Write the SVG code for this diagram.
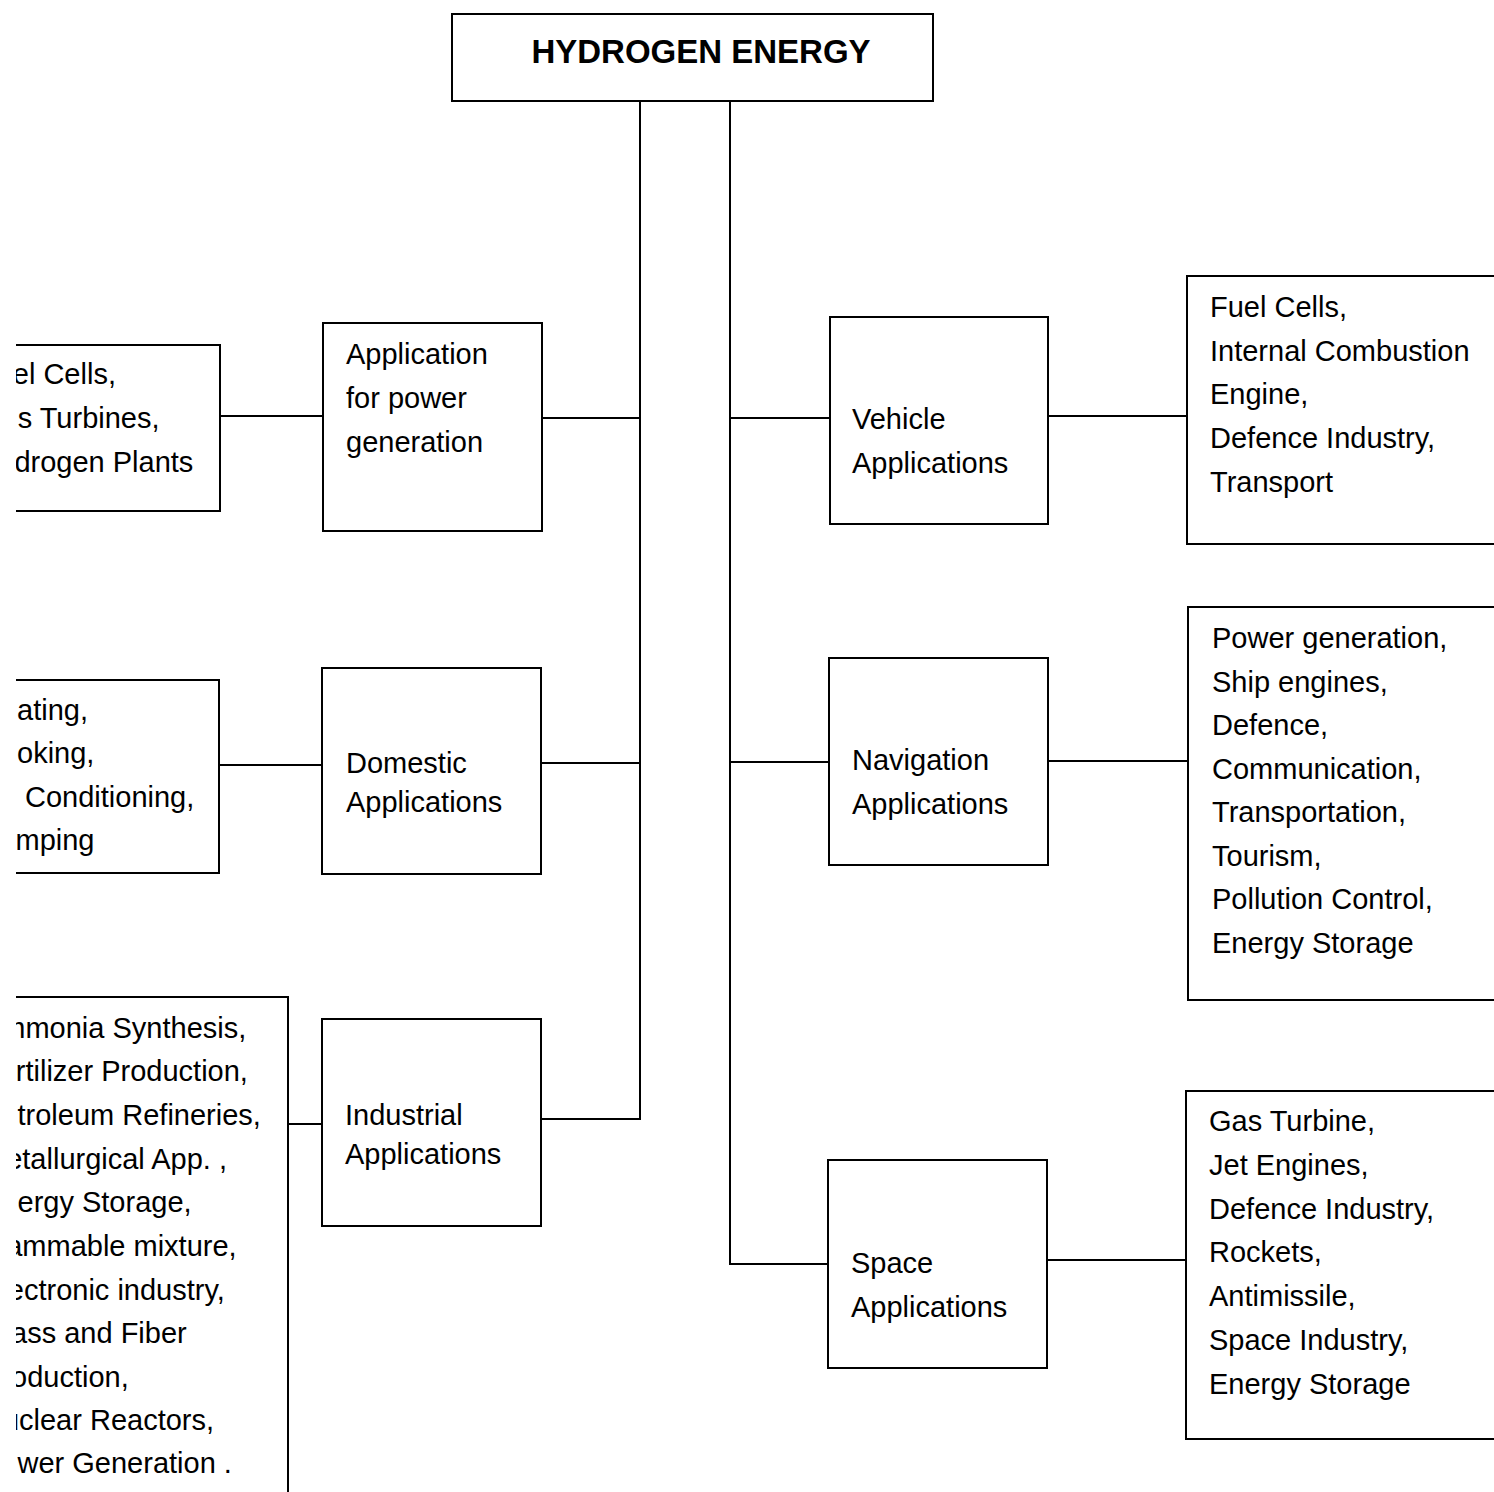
<svg xmlns="http://www.w3.org/2000/svg" width="1494" height="1492" viewBox="0 0 1494 1492">
<style>
.b{fill:none;stroke:#000;stroke-width:2}
.c{fill:none;stroke:#000;stroke-width:2}
.t{font-family:"Liberation Sans",Arial,sans-serif;font-size:29px;fill:#000}
.h{font-family:"Liberation Sans",Arial,sans-serif;font-size:33px;font-weight:bold;fill:#000}
</style>
<defs>
<clipPath id="cl"><rect x="16" y="0" width="1478" height="1492"/></clipPath>
</defs>
<rect x="0" y="0" width="1494" height="1492" fill="#fff"/>
<g id="connectors">
<path class="c" d="M640 101V1120M730 101V1265"/>
<path class="c" d="M542 418H640M541 763H640M541 1119H640"/>
<path class="c" d="M730 418H830M730 762H829M730 1264H828"/>
<path class="c" d="M220 416H323M219 765H322M288 1124H322"/>
<path class="c" d="M1048 416H1187M1048 761H1188M1047 1260H1186"/>
</g>
<g id="hydrogen-energy">
<rect class="b" x="452" y="14" width="481" height="87"/>
<text class="h" x="701" y="63" text-anchor="middle">HYDROGEN ENERGY</text>
</g>
<g id="power-generation">
<rect class="b" x="323" y="323" width="219" height="208"/>
<text class="t" x="346" y="364">Application</text>
<text class="t" x="346" y="408">for power</text>
<text class="t" x="346" y="452">generation</text>
</g>
<g id="domestic">
<rect class="b" x="322" y="668" width="219" height="206"/>
<text class="t" x="346" y="773">Domestic</text>
<text class="t" x="346" y="812">Applications</text>
</g>
<g id="industrial">
<rect class="b" x="322" y="1019" width="219" height="207"/>
<text class="t" x="345" y="1125">Industrial</text>
<text class="t" x="345" y="1164">Applications</text>
</g>
<g id="vehicle">
<rect class="b" x="830" y="317" width="218" height="207"/>
<text class="t" x="852" y="429">Vehicle</text>
<text class="t" x="852" y="473">Applications</text>
</g>
<g id="navigation">
<rect class="b" x="829" y="658" width="219" height="207"/>
<text class="t" x="852" y="770">Navigation</text>
<text class="t" x="852" y="814">Applications</text>
</g>
<g id="space">
<rect class="b" x="828" y="1160" width="219" height="208"/>
<text class="t" x="851" y="1273">Space</text>
<text class="t" x="851" y="1317">Applications</text>
</g>
<g id="power-uses" clip-path="url(#cl)">
<path class="b" d="M16 345H220V511H16"/>
<text class="t" x="12.8" y="384">el Cells,</text>
<text class="t" x="17.7" y="428">s Turbines,</text>
<text class="t" x="14.4" y="472">drogen Plants</text>
</g>
<g id="domestic-uses" clip-path="url(#cl)">
<path class="b" d="M16 680H219V873H16"/>
<text class="t" x="17" y="720">ating,</text>
<text class="t" x="17" y="763">oking,</text>
<text class="t" x="25" y="807">Conditioning,</text>
<text class="t" x="15.5" y="850">mping</text>
</g>
<g id="industrial-uses" clip-path="url(#cl)">
<path class="b" d="M16 997H288V1492"/>
<text class="t" x="1.3" y="1038">mmonia Synthesis,</text>
<text class="t" x="15.8" y="1081">rtilizer Production,</text>
<text class="t" x="17.5" y="1125">troleum Refineries,</text>
<text class="t" x="6.2" y="1169">etallurgical App. ,</text>
<text class="t" x="17.5" y="1212">ergy Storage,</text>
<text class="t" x="6.2" y="1256">ammable mixture,</text>
<text class="t" x="7.8" y="1300">ectronic industry,</text>
<text class="t" x="11" y="1343">ass and Fiber</text>
<text class="t" x="11" y="1387">oduction,</text>
<text class="t" x="2.9" y="1430">uclear Reactors,</text>
<text class="t" x="17.5" y="1473">wer Generation .</text>
</g>
<g id="vehicle-uses">
<path class="b" d="M1494 276H1187V544H1494"/>
<text class="t" x="1210" y="317">Fuel Cells,</text>
<text class="t" x="1210" y="361">Internal Combustion</text>
<text class="t" x="1210" y="404">Engine,</text>
<text class="t" x="1210" y="448">Defence Industry,</text>
<text class="t" x="1210" y="492">Transport</text>
</g>
<g id="navigation-uses">
<path class="b" d="M1494 607H1188V1000H1494"/>
<text class="t" x="1212" y="648">Power generation,</text>
<text class="t" x="1212" y="692">Ship engines,</text>
<text class="t" x="1212" y="735">Defence,</text>
<text class="t" x="1212" y="779">Communication,</text>
<text class="t" x="1212" y="822">Transportation,</text>
<text class="t" x="1212" y="866">Tourism,</text>
<text class="t" x="1212" y="909">Pollution Control,</text>
<text class="t" x="1212" y="953">Energy Storage</text>
</g>
<g id="space-uses">
<path class="b" d="M1494 1091H1186V1439H1494"/>
<text class="t" x="1209" y="1131">Gas Turbine,</text>
<text class="t" x="1209" y="1175">Jet Engines,</text>
<text class="t" x="1209" y="1219">Defence Industry,</text>
<text class="t" x="1209" y="1262">Rockets,</text>
<text class="t" x="1209" y="1306">Antimissile,</text>
<text class="t" x="1209" y="1350">Space Industry,</text>
<text class="t" x="1209" y="1394">Energy Storage</text>
</g>
</svg>
